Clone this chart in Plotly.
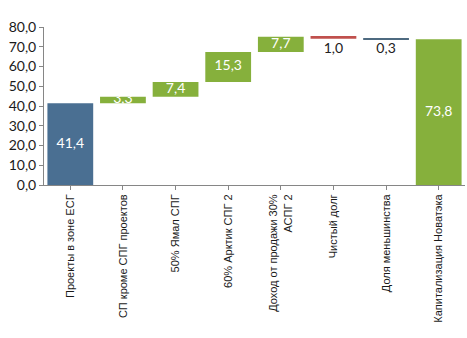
import plotly.graph_objects as go

categories = ["Проекты в зоне ЕСГ", "СП кроме СПГ проектов", "50% Ямал СПГ", "60% Арктик СПГ 2",
              "Доход от продажи 30%<br>АСПГ 2", "Чистый долг", "Доля меньшинства", "Капитализация Новатэка"]
values = [41.4, 3.3, 7.4, 15.3, 7.7, -1.0, -0.3, 73.8]
kinds = ["total", "rel", "rel", "rel", "rel", "rel", "rel", "total"]
colors = ["#4A6F92", "#86B03C", "#86B03C", "#86B03C", "#86B03C", "#C0504D", "#4E6A80", "#86B03C"]
labels = ["41,4", "3,3", "7,4", "15,3", "7,7", "1,0", "0,3", "73,8"]

bases, heights = [], []
run = 0.0
for v, k in zip(values, kinds):
    if k == "total":
        bases.append(0.0)
        heights.append(v)
        run = v
    else:
        bases.append(run)
        heights.append(v)
        run += v

xs = list(range(len(categories)))
fig = go.Figure()
fig.add_trace(go.Bar(x=xs, y=heights, base=bases, marker=dict(color=colors, line=dict(width=0)),
                     width=0.87, hoverinfo="skip"))

tx, ty, tpos, tcol = [], [], [], []
for i, (b, h) in enumerate(zip(bases, heights)):
    if h >= 0:
        tx.append(i); ty.append(b + h / 2); tpos.append("middle center"); tcol.append("white")
    else:
        tx.append(i); ty.append(b + h - 1.8); tpos.append("bottom center"); tcol.append("#222222")
fig.add_trace(go.Scatter(x=tx, y=ty, mode="text", text=labels, textposition=tpos,
                         textfont=dict(family="Lato", size=14, color=tcol), hoverinfo="skip",
                         cliponaxis=False))

fig.update_layout(
    width=467, height=338, margin=dict(l=44, r=2, t=27, b=153),
    plot_bgcolor="white", paper_bgcolor="white", showlegend=False, bargap=0.13,
    font=dict(family="Liberation Sans", color="#222222"),
    separators=", ",
)
fig.update_yaxes(range=[0, 80], dtick=10, tickformat=".1f", showgrid=False, zeroline=False,
                 showline=True, linecolor="#868686", linewidth=1, ticks="outside", ticklen=4,
                 tickcolor="#868686", tickfont=dict(family="Lato", size=14, color="#1a1a1a"))
fig.update_xaxes(tickmode="array", tickvals=xs, ticktext=categories, tickangle=-90,
                 range=[-0.5, 7.5], showgrid=False, showline=True, linecolor="#868686",
                 ticks="outside", ticklen=4, tickcolor="#868686", tickson="boundaries",
                 tickfont=dict(family="Liberation Sans", size=11, color="#1a1a1a"))
fig.write_html("out.html")
